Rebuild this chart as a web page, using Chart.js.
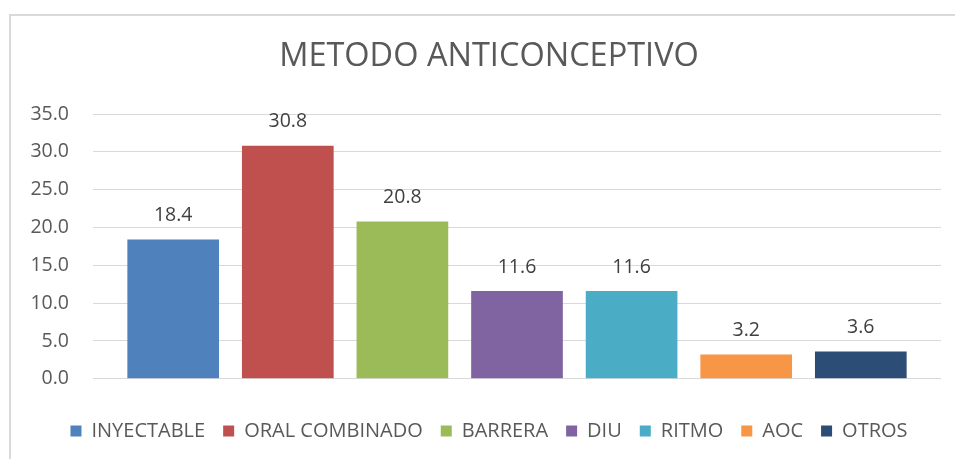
<!DOCTYPE html>
<html>
<head>
<meta charset="utf-8">
<script src="https://cdn.jsdelivr.net/npm/chart.js@4/dist/chart.umd.min.js"></script>
<style>
  html, body { margin: 0; padding: 0; background: #fff; overflow: hidden; width: 955px; height: 459px; }
  #frame {
    position: absolute; left: 9px; top: 14px; width: 962px; height: 460px;
    border-left: 2px solid #d9d9d9; border-top: 2px solid #d9d9d9;
  }
  #wrap { position: absolute; left: 0; top: 0; width: 956px; height: 443px; }
</style>
</head>
<body>
<div id="frame"><div id="wrap"><canvas id="metodoChart"></canvas></div></div>
<script>
// datos
const categorias = ['INYECTABLE', 'ORAL COMBINADO', 'BARRERA', 'DIU', 'RITMO', 'AOC', 'OTROS'];
const valores = [18.4, 30.8, 20.8, 11.6, 11.6, 3.2, 3.6];
const colores = ['#4F81BD', '#C0504D', '#9BBB59', '#8064A2', '#4BACC6', '#F79646', '#2C4D75'];
const ticksY = [0, 5, 10, 15, 20, 25, 30, 35];

const FUENTE = "'Open Sans', sans-serif";

// etiquetas de valor encima de cada barra
const etiquetasPlugin = {
    id: 'etiquetas',
    afterDatasetsDraw(chart) {
        const ctx = chart.ctx;
        ctx.save();
        ctx.font = '19.5px ' + FUENTE;
        ctx.fillStyle = '#404040';
        ctx.textAlign = 'center';
        ctx.textBaseline = 'middle';
        chart.data.datasets.forEach((ds, i) => {
            const meta = chart.getDatasetMeta(i);
            meta.data.forEach((bar, j) => {
                ctx.fillText(ds.data[j].toFixed(1), bar.x, bar.y - 24);
            });
        });
        ctx.restore();
    }
};

const datasets = categorias.map((nombre, i) => ({
    label: nombre,
    data: [valores[i]],
    backgroundColor: colores[i],
    borderWidth: 0
}));

new Chart(document.getElementById('metodoChart'), {
    type: 'bar',
    data: {
        labels: [''],
        datasets: datasets
    },
    options: {
        responsive: true,
        maintainAspectRatio: false,
        animation: false,
        categoryPercentage: 0.946,
        barPercentage: 0.8,
        layout: { padding: { left: 0, right: 0, top: 0, bottom: 8 } },
        scales: {
            x: { display: false },
            y: {
                min: 0,
                max: 35,
                afterBuildTicks: (axis) => { axis.ticks = ticksY.map(v => ({ value: v })); },
                afterFit: (axis) => { axis.width = 82; },
                border: { display: false },
                grid: { color: '#d9d9d9', lineWidth: 1, drawTicks: false },
                ticks: {
                    padding: 24,
                    color: '#595959',
                    font: { family: FUENTE, size: 19.5 },
                    callback: (v) => Number(v).toFixed(1)
                }
            },
            // eje vacio a la derecha, solo deja margen
            margen: {
                position: 'right',
                display: true,
                min: 0,
                max: 35,
                afterFit: (axis) => { axis.width = 26; },
                border: { display: false },
                grid: { display: false },
                ticks: { display: false }
            }
        },
        plugins: {
            title: {
                display: true,
                text: 'METODO ANTICONCEPTIVO',
                color: '#595959',
                font: { family: FUENTE, size: 32.5, weight: 'normal' },
                padding: { top: 21, bottom: 38 }
            },
            legend: {
                position: 'bottom',
                title: {
                    display: true,
                    text: '',
                    font: { size: 1 },
                    padding: { top: 0, bottom: 23 }
                },
                labels: {
                    boxWidth: 11,
                    boxHeight: 11,
                    padding: 18,
                    color: '#595959',
                    font: { family: FUENTE, size: 20 }
                }
            },
            tooltip: { enabled: false }
        }
    },
    plugins: [etiquetasPlugin]
});
</script>
</body>
</html>
